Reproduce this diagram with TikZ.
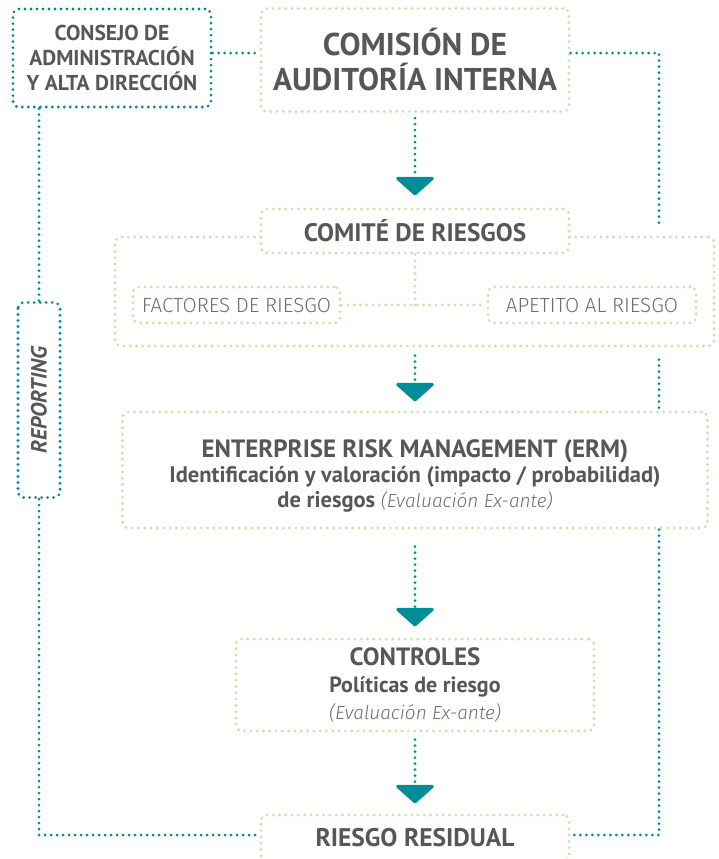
\documentclass[tikz,border=0pt]{standalone}
\usepackage{fontspec}
\setmainfont{PT Sans}
\newfontfamily\lightfont{Fira Sans Light}
\usetikzlibrary{arrows.meta}

\definecolor{petrol}{RGB}{0,140,153}
\definecolor{pale}{RGB}{206,225,175}
\definecolor{ink}{RGB}{87,87,86}
\definecolor{inklight}{RGB}{110,110,110}

\tikzset{
	greenbox/.style={draw=pale, line width=3.2pt, dash pattern=on 0pt off 6.3pt, line cap=round, rounded corners=6pt, fill=white, text=ink, align=center, inner sep=0pt},
	tealbox/.style={draw=petrol, line width=3.1pt, dash pattern=on 0pt off 6pt, line cap=round, rounded corners=6pt, fill=white, text=ink, align=center, inner sep=0pt},
	greenline/.style={draw=pale, line width=3.2pt, dash pattern=on 0pt off 6.3pt, line cap=round},
	tealline/.style={draw=petrol, line width=3.1pt, dash pattern=on 0pt off 6pt, line cap=round},
	flow/.style={tealline, -{Triangle[width=42pt,length=19pt,round]}},
	lightlabel/.style={text=inklight, font=\lightfont\fontsize{20.5}{22}\selectfont}
}
\newcommand{\exante}{{\lightfont\mdseries\itshape\fontsize{19}{22}\selectfont\color{inklight}(Evaluación Ex-ante)}}

\begin{document}
\begin{tikzpicture}[x=1pt,y=-1pt]
	\useasboundingbox (0,0) rectangle (719,859);

	\node[tealbox, minimum width=198pt, minimum height=98pt, font=\bfseries\fontsize{21.5}{25}\selectfont] (consejo) at (112,58) {CONSEJO DE\\ADMINISTRACIÓN\\Y ALTA DIRECCIÓN};
	\node[greenbox, minimum width=308pt, minimum height=103pt, font=\bfseries\fontsize{31.5}{35}\selectfont] (comision) at (415,60) {COMISIÓN DE\\AUDITORÍA INTERNA};

	\node[greenbox, minimum width=599pt, minimum height=109pt] (riesgos) at (414.5,291.5) {};
	\node[greenbox, minimum width=308pt, minimum height=44pt, font=\bfseries\fontsize{25.3}{28}\selectfont] (comite) at (415,231) {COMITÉ DE RIESGOS};
	\node[greenbox, lightlabel, minimum width=207pt, minimum height=36pt] (factores) at (236.5,305) {FACTORES DE RIESGO};
	\node[greenbox, lightlabel, minimum width=208pt, minimum height=36pt] (apetito) at (592,305) {APETITO AL RIESGO};

	\node[greenbox, minimum width=585pt, minimum height=116pt, font=\bfseries\fontsize{22.5}{25}\selectfont] (erm) at (415,470) {\rule{0pt}{30pt}{\fontsize{25}{28}\selectfont ENTERPRISE RISK MANAGEMENT (ERM)}\\Identificación y valoración (impacto / probabilidad)\\de riesgos \exante};
	\node[greenbox, minimum width=358pt, minimum height=92pt, font=\bfseries\fontsize{22}{27}\selectfont] (controles) at (415,685) {{\fontsize{25}{27}\selectfont CONTROLES}\\Políticas de riesgo\\\exante};
	\node[greenbox, minimum width=308pt, minimum height=46pt, font=\bfseries\fontsize{25.5}{28}\selectfont] (residual) at (415,838) {RIESGO RESIDUAL};

	\node[tealbox, rotate=90, minimum width=195pt, minimum height=42pt, font=\bfseries\itshape\fontsize{22}{24}\selectfont] (reporting) at (39,400) {REPORTING};

	\coordinate (ne) at (659,53);
	\draw[tealline] ([yshift=5pt]consejo.east) -- ([yshift=5pt]consejo.east -| comision.west);
	\draw[tealline] ([yshift=5pt]consejo.east -| comision.east) -- (ne) -- ([yshift=10pt]riesgos.north -| ne);
	\draw[tealline] ([yshift=-12pt]riesgos.south -| ne) -- (erm.north -| ne);
	\draw[tealline] (erm.south -| ne) |- ([yshift=3pt]residual.east);
	\draw[tealline] (consejo.south -| reporting.east) -- (reporting.east);
	\draw[tealline] (reporting.west) |- ([yshift=3pt]residual.west);

	\draw[greenline] (comite.south) -- (comite.south |- factores.east);
	\draw[greenline] (factores.east) -- (apetito.west);

	\draw[flow] ([yshift=-5pt]comision.south) -- ([yshift=12pt]comite.north);
	\draw[flow] ([yshift=-8pt]riesgos.south -| erm.north) -- ([yshift=9pt]erm.north);
	\draw[flow] ([yshift=-17pt]erm.south) -- ([yshift=11pt]controles.north);
	\draw[flow] ([yshift=-7pt]controles.south) -- ([yshift=10pt]residual.north);
\end{tikzpicture}
\end{document}
